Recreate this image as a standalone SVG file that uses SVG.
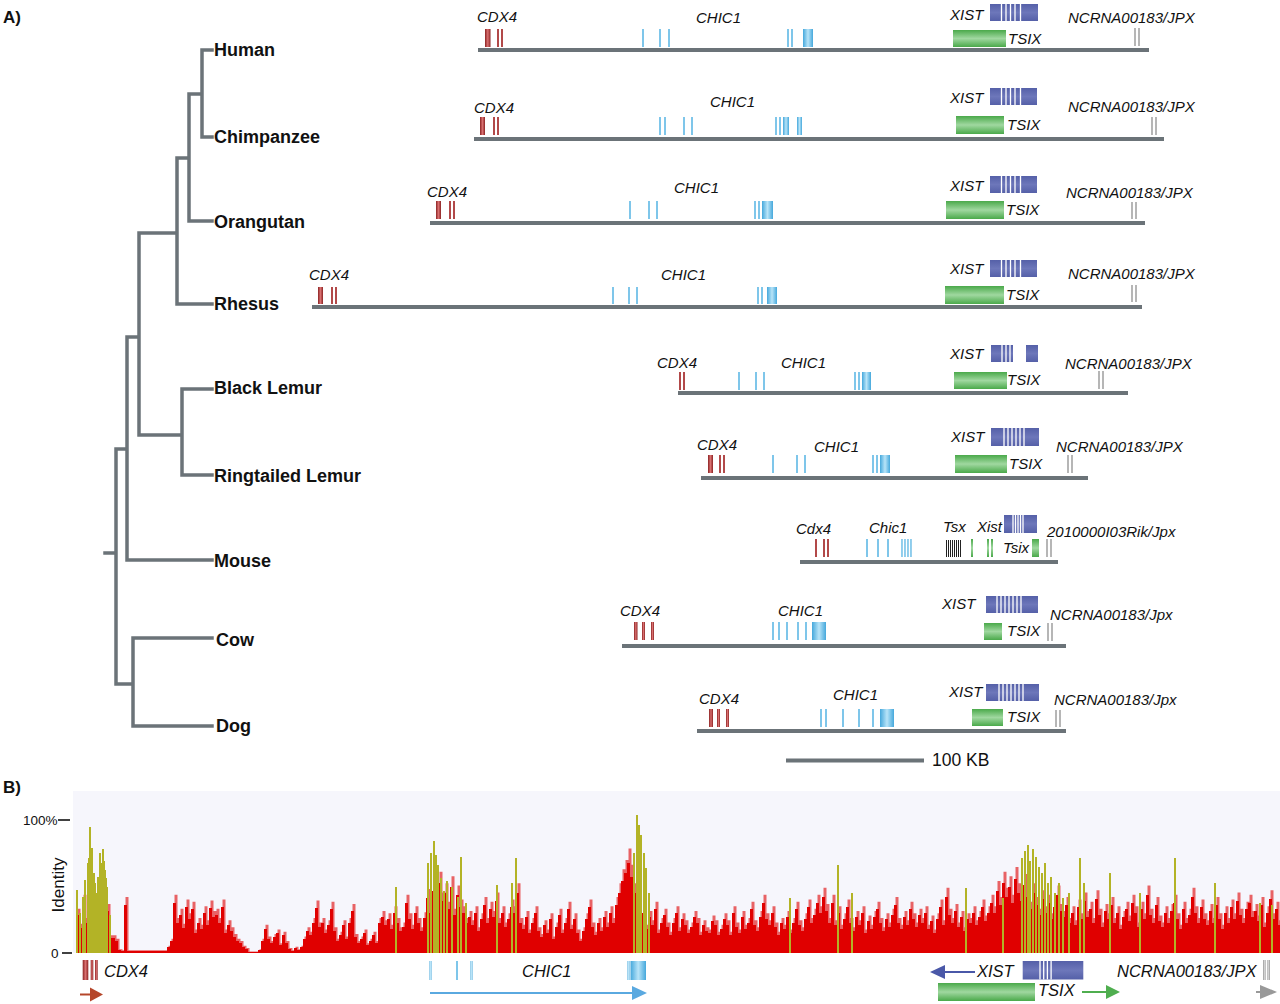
<svg xmlns="http://www.w3.org/2000/svg" xmlns:xlink="http://www.w3.org/1999/xlink" width="1280" height="1004" viewBox="0 0 1280 1004">
<defs>
<linearGradient id="gR" x1="0" y1="0" x2="1" y2="0"><stop offset="0" stop-color="#8c2222"/><stop offset="0.5" stop-color="#d87070"/><stop offset="1" stop-color="#8c2222"/></linearGradient>
<linearGradient id="gB" x1="0" y1="0" x2="1" y2="0"><stop offset="0" stop-color="#45a8dc"/><stop offset="0.5" stop-color="#b8e4f8"/><stop offset="1" stop-color="#45a8dc"/></linearGradient>
<linearGradient id="gX" x1="0" y1="0" x2="0" y2="1"><stop offset="0" stop-color="#5560a8"/><stop offset="0.5" stop-color="#6d77ba"/><stop offset="1" stop-color="#5560a8"/></linearGradient>
<linearGradient id="gT" x1="0" y1="0" x2="0" y2="1"><stop offset="0" stop-color="#4aa94a"/><stop offset="0.5" stop-color="#a0d8a0"/><stop offset="1" stop-color="#4aa94a"/></linearGradient>
<linearGradient id="gJ" x1="0" y1="0" x2="1" y2="0"><stop offset="0" stop-color="#888"/><stop offset="0.5" stop-color="#e4e4e4"/><stop offset="1" stop-color="#888"/></linearGradient>
</defs>
<style>
.tree{fill:none;stroke:#6b7378;stroke-width:3.5;stroke-linecap:square}
.chr{stroke:#6b7378;stroke-width:4}
.sp{font-family:"Liberation Sans",Arial,sans-serif;font-weight:bold;font-size:18px;fill:#111}
.pl{font-family:"Liberation Sans",Arial,sans-serif;font-weight:bold;font-size:17px;fill:#111}
.g{font-family:"Liberation Sans",Arial,sans-serif;font-style:italic;font-size:15px;fill:#111}
.gb{font-family:"Liberation Sans",Arial,sans-serif;font-style:italic;font-size:16.5px;fill:#111}
.ax{font-family:"Liberation Sans",Arial,sans-serif;font-size:13.5px;fill:#111}
.r{fill:url(#gR)}
.b{fill:url(#gB)}
.x{fill:url(#gX)}
.t{fill:url(#gT)}
.j{fill:url(#gJ)}
.w{stroke:#fff;stroke-width:1.3}
.k{stroke:#222;stroke-width:1}
</style>
<rect width="1280" height="1004" fill="#fff"/>
<text class="pl" x="3" y="23">A)</text>
<text class="pl" x="3" y="793">B)</text>

<g id="tree-connectors">
<path class="tree" d="M202,50H212M202,137H212M202,50V137M189,94H202M189,94V221H212M177,158H189M177,158V304H212M139,233H177M139,233V435H182M182,389V475M182,389H212M182,475H212M127,337H139M127,337V560H212M116,449H127M116,449V684H133M105,553H116M133,638V726M133,638H212M133,726H212"/>
</g>

<g id="species-labels">
<text class="sp" x="214" y="56">Human</text>
<text class="sp" x="214" y="143">Chimpanzee</text>
<text class="sp" x="214" y="228">Orangutan</text>
<text class="sp" x="214" y="310">Rhesus</text>
<text class="sp" x="214" y="394">Black Lemur</text>
<text class="sp" x="214" y="482">Ringtailed Lemur</text>
<text class="sp" x="214" y="567">Mouse</text>
<text class="sp" x="216" y="646">Cow</text>
<text class="sp" x="216" y="732">Dog</text>
</g>

<g id="row-human">
<line class="chr" x1="478" y1="50" x2="1149" y2="50"/>
<rect class="r" x="485" y="29" width="5.5" height="18"/><rect class="r" x="497" y="29" width="2" height="18"/><rect class="r" x="501" y="29" width="2" height="18"/>
<rect class="b" x="642" y="29" width="2" height="18"/><rect class="b" x="659" y="29" width="2" height="18"/><rect class="b" x="668" y="29" width="2" height="18"/><rect class="b" x="787" y="29" width="2" height="18"/><rect class="b" x="791" y="29" width="2" height="18"/><rect class="b" x="803" y="29" width="10" height="18"/>
<rect class="x" x="990" y="4" width="48" height="17"/><path class="w" d="M1001.5,4V21M1006,4V21M1010.5,4V21M1015,4V21M1020.5,4V21"/>
<rect class="t" x="953" y="30" width="53" height="17"/>
<rect class="j" x="1134" y="28" width="2" height="18"/><rect class="j" x="1138" y="28" width="2" height="18"/>
<text class="g" x="477" y="22">CDX4</text><text class="g" x="696" y="23">CHIC1</text><text class="g" x="950" y="19.5">XIST</text><text class="g" x="1008" y="44">TSIX</text><text class="g" x="1068" y="22.5">NCRNA00183/JPX</text>
</g>

<g id="row-chimpanzee">
<line class="chr" x1="474" y1="139" x2="1164" y2="139"/>
<rect class="r" x="480" y="117" width="5" height="18"/><rect class="r" x="493" y="117" width="2" height="18"/><rect class="r" x="497" y="117" width="2" height="18"/>
<rect class="b" x="659" y="117" width="2" height="18"/><rect class="b" x="664" y="117" width="2" height="18"/><rect class="b" x="683" y="117" width="2" height="18"/><rect class="b" x="691" y="117" width="2" height="18"/><rect class="b" x="775" y="117" width="2" height="18"/><rect class="b" x="779" y="117" width="2" height="18"/><rect class="b" x="783" y="117" width="6" height="18"/><rect class="b" x="797" y="117" width="5" height="18"/>
<rect class="x" x="990" y="88" width="47" height="17"/><path class="w" d="M1001.5,88V105M1006,88V105M1010.5,88V105M1015,88V105M1020.5,88V105"/>
<rect class="t" x="956" y="116" width="48" height="18"/>
<rect class="j" x="1151" y="117" width="2" height="18"/><rect class="j" x="1155" y="117" width="2" height="18"/>
<text class="g" x="474" y="113">CDX4</text><text class="g" x="710" y="107">CHIC1</text><text class="g" x="950" y="103">XIST</text><text class="g" x="1007" y="130">TSIX</text><text class="g" x="1068" y="112">NCRNA00183/JPX</text>
</g>

<g id="row-orangutan">
<line class="chr" x1="430" y1="223" x2="1145" y2="223"/>
<rect class="r" x="436" y="201" width="5" height="18"/><rect class="r" x="449" y="201" width="2" height="18"/><rect class="r" x="453" y="201" width="2" height="18"/>
<rect class="b" x="629" y="201" width="2" height="18"/><rect class="b" x="648" y="201" width="2" height="18"/><rect class="b" x="656" y="201" width="2" height="18"/><rect class="b" x="754" y="201" width="2" height="18"/><rect class="b" x="758" y="201" width="2" height="18"/><rect class="b" x="762" y="201" width="11" height="18"/>
<rect class="x" x="990" y="176" width="47" height="17"/><path class="w" d="M1001.5,176V193M1006,176V193M1010.5,176V193M1015,176V193M1020.5,176V193"/>
<rect class="t" x="946" y="201" width="58" height="18"/>
<rect class="j" x="1131" y="202" width="2" height="17"/><rect class="j" x="1135" y="202" width="2" height="17"/>
<text class="g" x="427" y="197">CDX4</text><text class="g" x="674" y="193">CHIC1</text><text class="g" x="950" y="191">XIST</text><text class="g" x="1006" y="215">TSIX</text><text class="g" x="1066" y="198">NCRNA00183/JPX</text>
</g>

<g id="row-rhesus">
<line class="chr" x1="312" y1="307" x2="1142" y2="307"/>
<rect class="r" x="318" y="287" width="5" height="17"/><rect class="r" x="331" y="287" width="2" height="17"/><rect class="r" x="335" y="287" width="2" height="17"/>
<rect class="b" x="612" y="287" width="2" height="17"/><rect class="b" x="628" y="287" width="2" height="17"/><rect class="b" x="636" y="287" width="2" height="17"/><rect class="b" x="757" y="287" width="2" height="17"/><rect class="b" x="761" y="287" width="2" height="17"/><rect class="b" x="767" y="287" width="10" height="17"/>
<rect class="x" x="990" y="260" width="47" height="17"/><path class="w" d="M1001.5,260V277M1006,260V277M1010.5,260V277M1015,260V277M1020.5,260V277"/>
<rect class="t" x="945" y="286" width="59" height="18"/>
<rect class="j" x="1131" y="285" width="2" height="17"/><rect class="j" x="1135" y="285" width="2" height="17"/>
<text class="g" x="309" y="280">CDX4</text><text class="g" x="661" y="280">CHIC1</text><text class="g" x="950" y="274">XIST</text><text class="g" x="1006" y="300">TSIX</text><text class="g" x="1068" y="279">NCRNA00183/JPX</text>
</g>

<g id="row-black-lemur">
<line class="chr" x1="678" y1="393" x2="1128" y2="393"/>
<rect class="r" x="679" y="372" width="2" height="18"/><rect class="r" x="683" y="372" width="2" height="18"/>
<rect class="b" x="738" y="372" width="2" height="18"/><rect class="b" x="755" y="372" width="2" height="18"/><rect class="b" x="763" y="372" width="2" height="18"/><rect class="b" x="854" y="372" width="2" height="18"/><rect class="b" x="858" y="372" width="2" height="18"/><rect class="b" x="862" y="372" width="9" height="18"/>
<rect class="x" x="991" y="345" width="22" height="17"/><rect class="x" x="1026" y="345" width="12" height="17"/><path class="w" d="M1002,345V362M1006,345V362M1010,345V362"/>
<rect class="t" x="954" y="372" width="53" height="17"/>
<rect class="j" x="1098" y="371" width="2" height="18"/><rect class="j" x="1102" y="371" width="2" height="18"/>
<text class="g" x="657" y="368">CDX4</text><text class="g" x="781" y="368">CHIC1</text><text class="g" x="950" y="359">XIST</text><text class="g" x="1007" y="385">TSIX</text><text class="g" x="1065" y="369">NCRNA00183/JPX</text>
</g>

<g id="row-ringtailed-lemur">
<line class="chr" x1="701" y1="478" x2="1088" y2="478"/>
<rect class="r" x="708" y="455" width="5" height="18"/><rect class="r" x="719" y="455" width="2" height="18"/><rect class="r" x="723" y="455" width="2" height="18"/>
<rect class="b" x="772" y="455" width="2" height="18"/><rect class="b" x="796" y="455" width="2" height="18"/><rect class="b" x="804" y="455" width="2" height="18"/><rect class="b" x="872" y="455" width="2" height="18"/><rect class="b" x="876" y="455" width="2" height="18"/><rect class="b" x="880" y="455" width="10" height="18"/>
<rect class="x" x="991" y="428" width="48" height="18"/><path class="w" d="M1004,428V446M1008,428V446M1012,428V446M1016,428V446M1020,428V446M1024,428V446"/>
<rect class="t" x="955" y="455" width="52" height="18"/>
<rect class="j" x="1067" y="455" width="2" height="18"/><rect class="j" x="1071" y="455" width="2" height="18"/>
<text class="g" x="697" y="450">CDX4</text><text class="g" x="814" y="452">CHIC1</text><text class="g" x="951" y="442">XIST</text><text class="g" x="1009" y="469">TSIX</text><text class="g" x="1056" y="452">NCRNA00183/JPX</text>
</g>

<g id="row-mouse">
<line class="chr" x1="800" y1="562" x2="1058" y2="562"/>
<rect class="r" x="815" y="539" width="2" height="18"/><rect class="r" x="823" y="539" width="2" height="18"/><rect class="r" x="827" y="539" width="2" height="18"/>
<rect class="b" x="866" y="539" width="2" height="18"/><rect class="b" x="877" y="539" width="2" height="18"/><rect class="b" x="887" y="539" width="2" height="18"/><rect class="b" x="901" y="539" width="1.6" height="18"/><rect class="b" x="904" y="539" width="1.6" height="18"/><rect class="b" x="907" y="539" width="1.6" height="18"/><rect class="b" x="910" y="539" width="1.6" height="18"/>
<path class="k" d="M946.5,540V557M948.5,540V557M950.5,540V557M952.5,540V557M954.5,540V557M956.5,540V557M958.5,540V557M960.5,540V557"/>
<rect class="t" x="971" y="539" width="2" height="18"/><rect class="t" x="987" y="539" width="2" height="18"/><rect class="t" x="991" y="539" width="2" height="18"/><rect class="t" x="1032" y="539" width="7" height="18"/>
<rect class="x" x="1004" y="515" width="33" height="18"/><path class="w" d="M1013,515V533M1015.5,515V533M1018,515V533M1020.5,515V533M1023,515V533"/>
<rect class="j" x="1046" y="539" width="2" height="18"/><rect class="j" x="1050" y="539" width="2" height="18"/>
<text class="g" x="796" y="534">Cdx4</text><text class="g" x="869" y="533">Chic1</text><text class="g" x="943" y="532">Tsx</text><text class="g" x="977" y="532">Xist</text><text class="g" x="1003" y="553">Tsix</text><text class="g" x="1047" y="537">2010000I03Rik/Jpx</text>
</g>

<g id="row-cow">
<line class="chr" x1="622" y1="646" x2="1066" y2="646"/>
<rect class="r" x="634" y="622" width="3.5" height="18"/><rect class="r" x="642" y="622" width="3" height="18"/><rect class="r" x="651" y="622" width="3" height="18"/>
<rect class="b" x="772" y="622" width="2" height="18"/><rect class="b" x="778" y="622" width="2" height="18"/><rect class="b" x="786" y="622" width="2" height="18"/><rect class="b" x="797" y="622" width="2" height="18"/><rect class="b" x="805" y="622" width="2" height="18"/><rect class="b" x="812" y="622" width="14" height="18"/>
<rect class="x" x="986" y="596" width="52" height="17"/><path class="w" d="M997,596V613M1001,596V613M1005,596V613M1009,596V613M1013,596V613M1017,596V613M1021,596V613"/>
<rect class="t" x="984" y="623" width="18" height="17"/>
<rect class="j" x="1047" y="623" width="2" height="18"/><rect class="j" x="1051" y="623" width="2" height="18"/>
<text class="g" x="620" y="616">CDX4</text><text class="g" x="778" y="616">CHIC1</text><text class="g" x="942" y="609">XIST</text><text class="g" x="1007" y="636">TSIX</text><text class="g" x="1050" y="620">NCRNA00183/Jpx</text>
</g>

<g id="row-dog">
<line class="chr" x1="697" y1="731" x2="1066" y2="731"/>
<rect class="r" x="709" y="709" width="4" height="18"/><rect class="r" x="717" y="709" width="3" height="18"/><rect class="r" x="726" y="709" width="3" height="18"/>
<rect class="b" x="820" y="709" width="2" height="18"/><rect class="b" x="825" y="709" width="2" height="18"/><rect class="b" x="842" y="709" width="2" height="18"/><rect class="b" x="858" y="709" width="2" height="18"/><rect class="b" x="872" y="709" width="2" height="18"/><rect class="b" x="880" y="709" width="14" height="18"/>
<rect class="x" x="986" y="684" width="53" height="17"/><path class="w" d="M999,684V701M1003,684V701M1007,684V701M1011,684V701M1015,684V701M1019,684V701M1023,684V701"/>
<rect class="t" x="972" y="709" width="31" height="17"/>
<rect class="j" x="1055" y="710" width="2" height="17"/><rect class="j" x="1059" y="710" width="2" height="17"/>
<text class="g" x="699" y="704">CDX4</text><text class="g" x="833" y="700">CHIC1</text><text class="g" x="949" y="697">XIST</text><text class="g" x="1007" y="722">TSIX</text><text class="g" x="1054" y="705">NCRNA00183/Jpx</text>
</g>

<g id="scale-bar">
<line class="chr" x1="786" y1="760.5" x2="924" y2="760.5"/>
<text x="932" y="766" font-family="Liberation Sans, Arial, sans-serif" font-size="17.5" fill="#111">100 KB</text>
</g>

<g id="panel-b-plot">
<rect x="73" y="791" width="1207" height="162" fill="#f6f6fc"/>
<path id="hist" fill="#e00000" d="M76,953V915h3V928h3V903h3V923h3V935h3V908h3V913h3V898h3V918h3V925h3V911h3V938h3V938h3V941h3V950h3V951h3V905h3V951h3V951H167V947h3V941h3V903h3V923h3V915h3V928h3V907h3V919h3V909h3V933h3V923h3V929h3V913h3V925h3V908h3V917h3V915h3V923h3V907h3V933h3V925h3V931h3V937h3V941h3V943h3V947h3V949h3V952H258V950h3V941h3V929h3V939h3V943h3V937h3V933h3V945h3V935h3V943h3V949h3V951h3V948h3V950h3V947h3V939h3V931h3V935h3V923h3V908h3V927h3V923h3V933h3V925h3V909h3V931h3V941h3V935h3V925h3V939h3V923h3V911h3V937h3V943h3V939h3V933h3V945h3V941h3V935h3V943h3V923h3V917h3V925h3V919h3V929h3V913h3V923h3V931h3V927h3V903h3V919h3V929h3V913h3V923h3V931h3V918h3V898h3V913h3V891h3V905h3V883h3V901h3V893h3V909h3V887h3V915h3V895h3V907h3V913h3V923h3V917h3V925h3V913h3V931h3V919h3V905h3V923h3V909h3V917h3V901h3V923h3V913h3V927h3V919h3V907h3V913h3V893h3V923h3V929h3V917h3V933h3V923h3V913h3V931h3V937h3V925h3V933h3V919h3V939h3V927h3V915h3V933h3V923h3V909h3V929h3V919h3V933h3V941h3V931h3V919h3V907h3V927h3V935h3V923h3V931h3V917h3V927h3V913h3V923h3V905h3V893h3V881h3V873h3V863h3V877h3V893h3V913h3V923h3V913h3V929h3V917h3V925h3V909h3V933h3V923h3V915h3V927h3V935h3V923h3V913h3V931h3V919h3V925h3V933h3V927h3V917h3V923h3V935h3V925h3V931h3V933h3V921h3V925h3V935h3V929h3V919h3V925h3V935h3V913h3V927h3V933h3V917h3V929h3V923h3V909h3V925h3V931h3V917h3V903h3V919h3V925h3V913h3V927h3V935h3V923h3V929h3V917h3V933h3V923h3V909h3V925h3V931h3V919h3V907h3V923h3V915h3V903h3V913h3V897h3V911h3V923h3V903h3V925h3V913h3V929h3V919h3V907h3V923h3V931h3V917h3V925h3V913h3V933h3V921h3V929h3V917h3V909h3V923h3V931h3V919h3V927h3V915h3V905h3V923h3V929h3V917h3V925h3V909h3V919h3V927h3V915h3V923h3V913h3V929h3V921h3V933h3V919h3V907h3V925h3V897h3V915h3V923h3V911h3V927h3V917h3V931h3V919h3V923h3V913h3V925h3V917h3V907h3V921h3V913h3V903h3V913h3V891h3V905h3V883h3V897h3V887h3V903h3V879h3V893h3V901h3V885h3V897h3V909h3V893h3V905h3V915h3V899h3V913h3V903h3V919h3V907h3V895h3V911h3V917h3V905h3V923h3V913h3V925h3V907h3V919h3V901h3V917h3V909h3V923h3V899h3V915h3V927h3V911h3V919h3V905h3V923h3V913h3V929h3V917h3V909h3V921h3V903h3V913h3V927h3V909h3V919h3V895h3V915h3V923h3V905h3V921h3V927h3V913h3V923h3V911h3V903h3V919h3V929h3V909h3V923h3V915h3V897h3V913h3V923h3V907h3V919h3V925h3V911h3V923h3V905h3V919h3V929h3V913h3V923h3V907h3V919h3V901h3V915h3V923h3V909h3V903h3V917h3V911h3V921h3V905h3V927h3V913h3V899h3V919h3V909h3V925h3V953H76Z"/>
<use xlink:href="#hist" href="#hist" fill="#f4a0a0" fill-opacity="0.6" transform="translate(1.5,-150) scale(1,1.157)"/>
<use xlink:href="#hist" href="#hist" fill="#e00000"/>
<path fill="none" stroke="#b3b326" stroke-width="2" d="M77,953V890M80,953V913M83,953V897M85,953V880M88,953V863M89,953V858M90,953V827M92,953V848M94,953V873M95,953V883M96,953V893M98,953V877M100,953V853M101,953V863M103,953V849M104,953V861M105,953V870M106,953V878M107,953V887M110,953V915M396,953V887M428,953V863M431,953V853M434,953V841M436,953V855M438,953V865M441,953V878M444,953V891M447,953V881M452,953V887M458,953V897M461,953V857M466,953V903M497,953V885M512,953V883M516,953V858M634,953V853M637,953V815M639,953V825M641,953V835M644,953V853M646,953V868M649,953V893M790,953V898M838,953V865M852,953V893M966,953V888M1003,953V898M1022,953V858M1025,953V851M1028,953V845M1030,953V861M1033,953V849M1036,953V857M1039,953V867M1042,953V873M1045,953V863M1048,953V883M1051,953V877M1055,953V893M1059,953V883M1063,953V898M1069,953V893M1080,953V858M1084,953V883M1110,953V873M1140,953V893M1175,953V858M1215,953V883M1260,953V903M1272,953V905"/>
<line x1="58" y1="820" x2="70" y2="820" stroke="#111" stroke-width="1.6"/>
<line x1="62" y1="953" x2="72" y2="953" stroke="#111" stroke-width="1.6"/>
<text class="ax" x="23" y="825">100%</text>
<text class="ax" x="51" y="958">0</text>
<text x="64" y="885" transform="rotate(-90 64 885)" text-anchor="middle" font-family="Liberation Sans, Arial, sans-serif" font-size="17" fill="#111">Identity</text>
</g>

<g id="panel-b-genes">
<rect class="r" x="82.7" y="960" width="5.6" height="20"/><rect class="r" x="90.7" y="960" width="2.6" height="20"/><rect class="r" x="95" y="960" width="2.7" height="20"/>
<text class="gb" x="104" y="977">CDX4</text>
<rect class="b" x="429.5" y="961" width="2" height="19"/><rect class="b" x="456" y="961" width="2" height="19"/><rect class="b" x="470.5" y="961" width="2" height="19"/><rect class="b" x="627.5" y="961" width="2" height="19"/><rect class="b" x="630.5" y="961" width="15.5" height="19"/>
<text class="gb" x="522" y="977">CHIC1</text>
<rect class="x" x="1022.7" y="961" width="60.6" height="18.5"/><path class="w" d="M1040,961V979.5M1043.7,961V979.5M1047.4,961V979.5M1051.1,961V979.5"/>
<text class="gb" x="977" y="977">XIST</text>
<rect class="t" x="938" y="983" width="97" height="18"/>
<text class="gb" x="1038" y="996">TSIX</text>
<text class="gb" x="1117" y="977">NCRNA00183/JPX</text>
<rect class="j" x="1263" y="960" width="2.5" height="20"/><rect class="j" x="1267.5" y="960" width="2.5" height="20"/>
</g>

<g id="panel-b-arrows">
<line x1="80" y1="994.5" x2="92" y2="994.5" stroke="#b5462a" stroke-width="2"/><polygon points="90,987.5 103,994.5 90,1001.5" fill="#b5462a"/>
<line x1="430" y1="993" x2="634" y2="993" stroke="#5aa9e0" stroke-width="2"/><polygon points="632,986 647,993 632,1000" fill="#5aa9e0"/>
<line x1="943" y1="972" x2="975" y2="972" stroke="#4a58a8" stroke-width="2"/><polygon points="945,965 930,972 945,979" fill="#4a58a8"/>
<line x1="1082" y1="992" x2="1108" y2="992" stroke="#4fae4f" stroke-width="2"/><polygon points="1106,985 1120,992 1106,999" fill="#4fae4f"/>
<line x1="1256" y1="992" x2="1262" y2="992" stroke="#999" stroke-width="2"/><polygon points="1260,985 1277,992 1260,999" fill="#999"/>
</g>
</svg>
